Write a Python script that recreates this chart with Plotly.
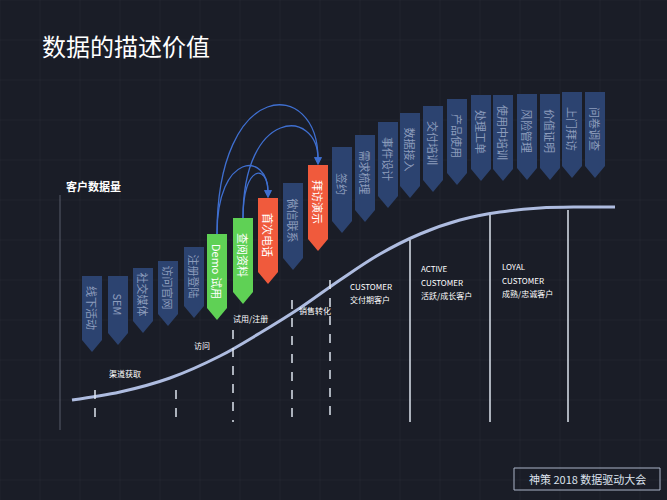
import plotly.graph_objects as go

# tag stages: label, center x, top y, tip y, kind
tag_labels = ["线下活动", "SEM", "社交媒体", "访问官网", "注册登陆", "Demo 试用", "查阅资料", "首次电话",
              "微信联系", "拜访演示", "签约", "需求梳理", "事件设计", "数据接入", "交付培训", "产品使用",
              "处理工单", "使用中培训", "风险管理", "价值证明", "上门拜访", "问卷调查"]
tag_x = [92, 118, 143, 168, 194, 217, 243, 268, 293, 318, 342, 365, 388, 410, 433, 457, 481, 503, 527, 550, 572, 595]
tag_top = [276, 276, 268, 261, 247, 234, 218, 198, 183, 165, 147, 135, 122, 113, 106, 99, 95, 95, 94, 94, 92, 92]
tag_tip = [352, 345, 333, 326, 318, 320, 304, 284, 270, 251, 233, 222, 208, 198, 192, 185, 181, 181, 180, 180, 178, 178]
tag_kind = ["n"] * 5 + ["g", "g", "o", "n", "o"] + ["n"] * 12

curve_x = [72, 120, 170, 220, 260, 300, 340, 380, 420, 460, 500, 540, 580, 615]
curve_y = [400, 392, 378, 356, 333, 308, 280, 254, 234, 220, 212, 208, 207, 207]

dash_x = [95, 176, 233, 292, 330]
dash_top = [390, 390, 330, 300, 280]
solid_x = [410, 490, 568]
solid_top = [240, 215, 210]

# arcs: from tag index to tag index, peak y
arc_from = [5, 6, 5, 6]
arc_to = [7, 7, 9, 9]
arc_peak = [167, 174, 107, 128]

stage_text = [(125, 373, "渠道获取"), (202, 345, "访问"), (250, 318, "试用/注册"), (315, 310, "销售转化"),
              (348, 286, "CUSTOMER"), (348, 299, "交付期客户"),
              (419, 268, "ACTIVE"), (419, 282, "CUSTOMER"), (419, 295, "活跃/成长客户"),
              (500, 266, "LOYAL"), (500, 280, "CUSTOMER"), (500, 293, "成熟/忠诚客户")]

colors = {"n": "#2c4370", "g": "#5fd155", "o": "#f05a3c"}
txtcol = {"n": "#8c9cbc", "g": "white", "o": "white"}
W = 10

fig = go.Figure()
shapes = []
annos = []

# faint grid
for gx in range(0, 667, 40):
    shapes.append(dict(type="line", x0=gx, x1=gx, y0=0, y1=500, line=dict(color="rgba(255,255,255,0.03)", width=1)))
for gy in range(0, 500, 40):
    shapes.append(dict(type="line", x0=0, x1=667, y0=gy, y1=gy, line=dict(color="rgba(255,255,255,0.03)", width=1)))

# axes
shapes.append(dict(type="line", x0=60, x1=60, y0=195, y1=430, line=dict(color="rgba(200,210,230,0.35)", width=1)))
for x, t in zip(dash_x, dash_top):
    shapes.append(dict(type="line", x0=x, x1=x, y0=t, y1=422, line=dict(color="#dde3ee", width=1.5, dash="dash")))
for x, t in zip(solid_x, solid_top):
    shapes.append(dict(type="line", x0=x, x1=x, y0=t, y1=422, line=dict(color="#dde3ee", width=1.5)))

for lab, x, t, b, k in zip(tag_labels, tag_x, tag_top, tag_tip, tag_kind):
    sh = b - 12
    shapes.append(dict(type="path", path=f"M{x-W},{t} L{x+W},{t} L{x+W},{sh} L{x},{b} L{x-W},{sh} Z",
                       fillcolor=colors[k], line=dict(width=0)))
    annos.append(dict(x=x, y=(t + sh) / 2, text=lab, showarrow=False, textangle=90,
                      font=dict(size=11, color=txtcol[k], family="Noto Sans CJK SC")))

for a, b, p in zip(arc_from, arc_to, arc_peak):
    x0, y0 = tag_x[a], tag_top[a]
    x1, y1 = tag_x[b], tag_top[b] - 6
    c = (p - 0.125 * (y0 + y1)) / 0.75
    shapes.append(dict(type="path", path=f"M{x0},{y0} C{x0},{c} {x1},{c} {x1},{y1}",
                       line=dict(color="#3f6fd0", width=1.3)))
    annos.append(dict(x=x1, y=y1 + 6, ax=x1, ay=y1 - 2, xref="x", yref="y", axref="x", ayref="y",
                      showarrow=True, arrowhead=2, arrowsize=1.2, arrowwidth=1.3, arrowcolor="#3f6fd0", text=""))

fig.add_trace(go.Scatter(x=curve_x, y=curve_y, mode="lines", line=dict(color="#aebce0", width=3, shape="spline"),
                         hoverinfo="skip"))

for x, y, t in stage_text:
    annos.append(dict(x=x, y=y, text=t, showarrow=False, xanchor="left" if x > 330 else "center",
                      font=dict(size=8, color="white", family="Noto Sans CJK SC")))

annos.append(dict(x=40, y=45, text="数据的描述价值", showarrow=False, xanchor="left",
                  font=dict(size=24, color="white", family="Noto Sans CJK SC")))
annos.append(dict(x=64, y=186, text="<b>客户数据量</b>", showarrow=False, xanchor="left",
                  font=dict(size=11, color="white", family="Noto Sans CJK SC")))
shapes.append(dict(type="rect", x0=514, x1=660, y0=468, y1=490, line=dict(color="#aab4c8", width=1)))
annos.append(dict(x=587, y=479, text="神策 2018 数据驱动大会", showarrow=False,
                  font=dict(size=11, color="#dde3ee", family="Noto Sans CJK SC")))

fig.update_layout(width=667, height=500, margin=dict(l=0, r=0, t=0, b=0),
                  paper_bgcolor="#1a1d27", plot_bgcolor="#1a1d27", showlegend=False,
                  shapes=shapes, annotations=annos)
fig.update_xaxes(range=[0, 667], visible=False)
fig.update_yaxes(range=[500, 0], visible=False)
fig.write_html("out.html", config={"displayModeBar": False},
               post_script="document.body.style.margin='0';document.body.style.background='#1a1d27';")
